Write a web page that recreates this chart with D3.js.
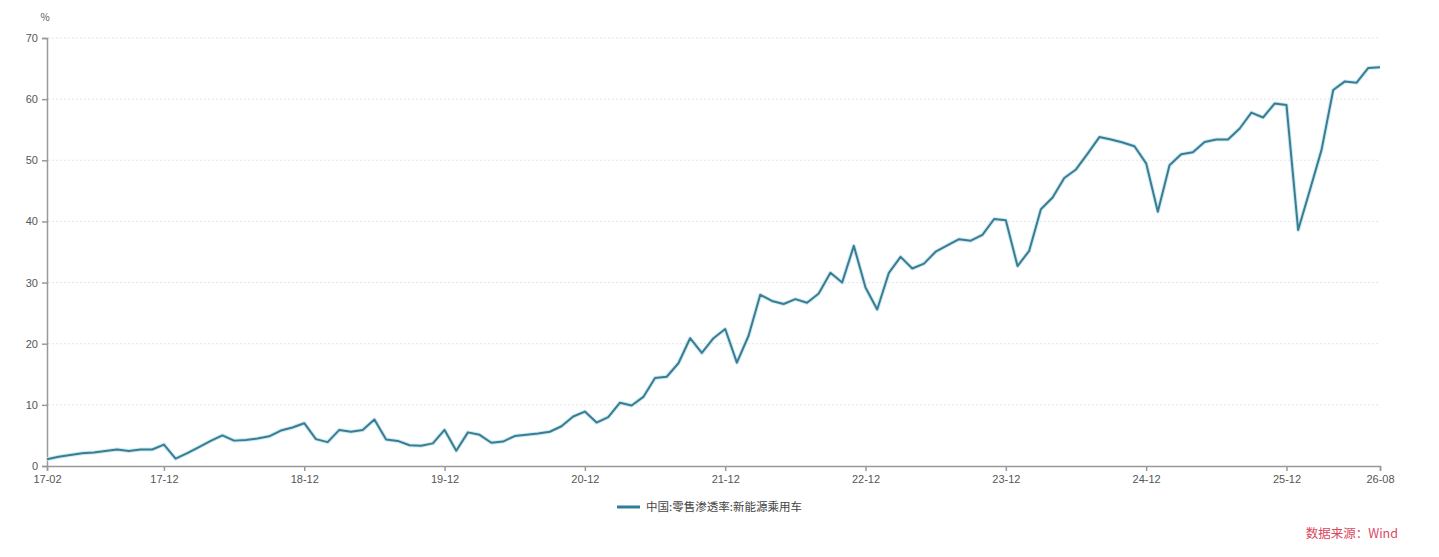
<!DOCTYPE html>
<html><head><meta charset="utf-8">
<script src="https://cdn.jsdelivr.net/npm/d3@7"></script>
<style>
html,body{margin:0;padding:0;background:#fff;}
svg{display:block;font-family:"Noto Sans CJK SC","Noto Sans",sans-serif;}
</style></head>
<body><svg id="c" width="1439" height="557"></svg>
<script>
// months 2017-02 .. 2026-08
const months = [];
for (let y = 2017; y <= 2026; y++) for (let m = 1; m <= 12; m++) {
  if ((y === 2017 && m < 2) || (y === 2026 && m > 8)) continue;
  months.push(String(y).slice(2) + "-" + String(m).padStart(2, "0"));
}
const seriesName = "中国:零售渗透率:新能源乘用车";
const values = [
  1.1,1.5,1.8,2.1,2.2,2.45,2.7,2.45,2.7,2.7,3.5,
  1.2,2.1,3.1,4.1,5.0,4.15,4.25,4.5,4.85,5.8,6.3,7.0,
  4.4,3.9,5.9,5.6,5.9,7.6,4.35,4.1,3.4,3.3,3.7,5.9,
  2.5,5.5,5.1,3.8,4.0,4.9,5.1,5.3,5.6,6.5,8.1,8.9,
  7.1,8.0,10.35,9.9,11.3,14.4,14.6,16.8,20.9,18.5,20.9,22.4,
  16.9,21.3,28.0,27.0,26.5,27.3,26.7,28.2,31.6,30.0,36.0,29.2,
  25.6,31.6,34.2,32.3,33.1,35.05,36.1,37.1,36.85,37.8,40.4,40.2,
  32.7,35.2,42.0,43.9,47.1,48.5,51.1,53.8,53.4,52.9,52.3,49.5,
  41.6,49.2,51.0,51.3,53.0,53.4,53.4,55.2,57.8,57.0,59.3,59.05,
  38.6,45.1,51.7,61.5,62.9,62.7,65.1,65.2
];
const xTicks = ["17-02","17-12","18-12","19-12","20-12","21-12","22-12","23-12","24-12","25-12","26-08"];
const yTicks = [0,10,20,30,40,50,60,70];
const sourceText = "数据来源：Wind";

const svg = d3.select("#c");
const x = d3.scalePoint().domain(months).range([47, 1380]);
const y = d3.scaleLinear().domain([0, 70]).range([466, 38]);

// grid
svg.append("g").selectAll("line").data(yTicks.slice(1)).join("line")
  .attr("x1", 48).attr("x2", 1380)
  .attr("y1", d => y(d)).attr("y2", d => y(d))
  .attr("stroke", "#e4e4e4").attr("stroke-dasharray", "2,2").attr("stroke-width", 1);

// y axis
const ya = svg.append("g").attr("transform", "translate(47,0)")
  .call(d3.axisLeft(y).tickValues(yTicks).tickSize(5).tickPadding(4));
ya.select(".domain").attr("stroke", "#999").attr("stroke-width", 1.5);
ya.selectAll(".tick line").attr("stroke", "#999").attr("stroke-width", 1.5);
ya.selectAll("text").attr("fill", "#555").attr("font-size", 11);

// x axis
const xa = svg.append("g").attr("transform", "translate(0,466)")
  .call(d3.axisBottom(x).tickValues(xTicks).tickSize(5).tickPadding(4));
xa.select(".domain").attr("stroke", "#999").attr("stroke-width", 1.5);
xa.selectAll(".tick line").attr("stroke", "#999").attr("stroke-width", 1.5);
xa.selectAll("text").attr("fill", "#555").attr("font-size", 11);

// unit
svg.append("text").attr("x", 45).attr("y", 21).attr("text-anchor", "middle")
  .attr("font-size", 10).attr("fill", "#555").text("%");

// glow + line
const line = d3.line().x((d, i) => x(months[i])).y(d => y(d));
svg.append("path").datum(values).attr("d", line)
  .attr("fill", "none").attr("stroke", "#c9ebf5").attr("stroke-width", 4).attr("stroke-linejoin", "round");
svg.append("path").datum(values).attr("d", line)
  .attr("fill", "none").attr("stroke", "#3d7c90").attr("stroke-width", 2).attr("stroke-linejoin", "round");

// legend
const lg = svg.append("g").attr("transform", "translate(617,507)");
lg.append("line").attr("x1", 0).attr("x2", 23).attr("y1", 0).attr("y2", 0)
  .attr("stroke", "#2f7f95").attr("stroke-width", 3);
lg.append("text").attr("x", 29).attr("y", 4).attr("font-size", 11.5).attr("fill", "#444").text(seriesName);

// source
svg.append("text").attr("x", 1398).attr("y", 538).attr("text-anchor", "end")
  .attr("font-size", 12.5).attr("fill", "#d9485f").text(sourceText);
</script></body></html>
